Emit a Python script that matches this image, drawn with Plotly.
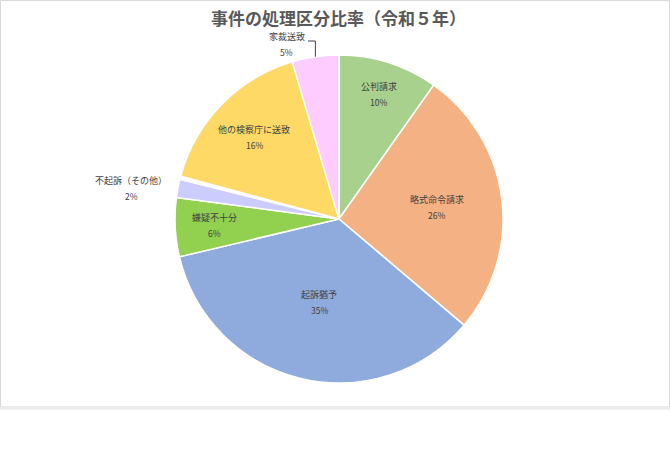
import math
import plotly.graph_objects as go

# ---- data ----
categories = ["公判請求", "略式命令請求", "起訴猶予", "嫌疑不十分",
              "不起訴（その他）", "", "他の検察庁に送致", "家裁送致"]
values = [9.8, 26.4, 35.1, 5.8, 1.8, 0.3, 16.2, 4.6]
colors = ["#A9D18E", "#F4B183", "#8FAADC", "#92D050",
          "#CCCCFF", "#FFFFFF", "#FFD966", "#FFCCFF"]
title_text = "事件の処理区分比率（令和５年）"

W, H = 670, 474
CX, CY, R = 339, 219, 164   # pie centre / radius in px
FONT = "Noto Sans CJK JP"
TXT = "#404040"

def px(x):
    return x / W

def py(y):
    return 1 - y / H

fig = go.Figure(go.Pie(
    labels=[c if c else " " for c in categories],
    values=values,
    sort=False,
    direction="clockwise",
    rotation=0,
    marker=dict(colors=colors, line=dict(color="#FFFFFF", width=1.5)),
    textinfo="none",
    hoverinfo="label+percent",
    showlegend=False,
    domain=dict(x=[px(CX - R), px(CX + R)], y=[py(CY + R), py(CY - R)]),
))

total = sum(values)
inside_frac = [0.80, 0.60, 0.52, 0.76, None, None, 0.72, None]
outside_pos = {4: (131, 188), 7: (286.5, 44)}

annotations = []
cum = 0.0
bisectors = []
for i, v in enumerate(values):
    mid = (cum + v / 2) / total * 2 * math.pi
    bisectors.append(mid)
    cum += v
    name = categories[i]
    if not name:
        continue
    pct = f"{round(v / total * 100)}%"
    if inside_frac[i] is not None:
        d = inside_frac[i] * R
        lx = CX + d * math.sin(mid)
        ly = CY - d * math.cos(mid)
    else:
        lx, ly = outside_pos[i]
    annotations.append(dict(x=px(lx), y=py(ly - 7.5), xref="paper", yref="paper",
                            text=name, showarrow=False,
                            font=dict(family=FONT, size=9, color=TXT),
                            xanchor="center", yanchor="middle"))
    annotations.append(dict(x=px(lx), y=py(ly + 8), xref="paper", yref="paper",
                            text=pct, showarrow=False,
                            font=dict(family=FONT, size=8.5, color=TXT),
                            xanchor="center", yanchor="middle"))

# title
annotations.append(dict(x=px(338), y=py(17), xref="paper", yref="paper",
                        text="<b>" + title_text + "</b>", showarrow=False,
                        font=dict(family=FONT, size=17, color="#595959"),
                        xanchor="center", yanchor="middle"))

# leader line for 家裁送致
m = bisectors[7]
ex = CX + R * math.sin(m)
ey = CY - R * math.cos(m)
shapes = [
    dict(type="path", xref="paper", yref="paper",
         path=f"M {px(308)} {py(41)} L {px(ex)} {py(41)} L {px(ex)} {py(ey)}",
         line=dict(color="#404040", width=1)),
    # chart area border
    dict(type="rect", xref="paper", yref="paper",
         x0=px(0.5), x1=px(669.5), y0=py(407), y1=py(0.5),
         line=dict(color="#D9D9D9", width=1), layer="below"),
    dict(type="line", xref="paper", yref="paper",
         x0=px(0), x1=px(670), y0=py(408.5), y1=py(408.5),
         line=dict(color="#EBEBEB", width=2)),
]

fig.update_layout(
    width=W, height=H,
    margin=dict(l=0, r=0, t=0, b=0),
    paper_bgcolor="#FFFFFF",
    plot_bgcolor="#FFFFFF",
    annotations=annotations,
    shapes=shapes,
    font=dict(family=FONT),
)

fig.write_html("out.html",
               config={"displayModeBar": False},
               post_script="document.body.style.margin='0';document.body.style.overflow='hidden';")
